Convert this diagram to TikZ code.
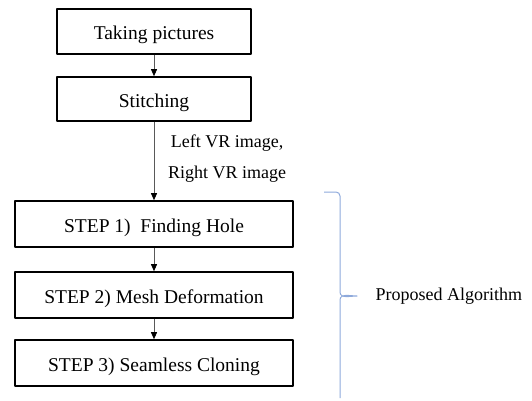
\documentclass[tikz,border=0pt]{standalone}
\usepackage{fontspec}
\setmainfont{Liberation Serif}
\usetikzlibrary{arrows.meta}
\definecolor{bracecol}{RGB}{142,169,219}
\begin{document}
\begin{tikzpicture}[x=1pt,y=-1pt,line join=round,>={Triangle[length=7pt,width=6pt,color=black]}]
	\tikzset{box/.style={draw,line width=1.6pt,inner sep=0pt,text height=17pt,text depth=0pt,font=\fontsize{19.5}{22}\selectfont},
		lbl/.style={font=\fontsize{18}{20}\selectfont},
		link/.style={->,draw=black!65,line width=0.8pt}}
	\useasboundingbox (0,0) rectangle (532,401);
	\node[box,minimum width=194pt,minimum height=45pt] (take) at (154,31.5) {Taking pictures};
	\node[box,minimum width=194pt,minimum height=44pt] (stitch) at (154,99) {Stitching};
	\node[box,minimum width=278pt,minimum height=46pt] (step1) at (154,224) {STEP 1)\ \ Finding Hole};
	\node[box,minimum width=278pt,minimum height=46pt] (step2) at (154,295) {STEP 2) Mesh Deformation};
	\node[box,minimum width=278pt,minimum height=46pt] (step3) at (154,363) {STEP 3) Seamless Cloning};
	\node[lbl] (left) at (227,143) {Left VR image,};
	\node[lbl] (right) at (227,174) {Right VR image};
	\node[lbl,anchor=west] (alg) at (372,296) {Proposed Algorithm};
	\draw[link] (take) -- (stitch);
	\draw[link] (stitch) -- (step1);
	\draw[link] (step1) -- (step2);
	\draw[link] (step2) -- (step3);
	% brace
	\draw[bracecol,line width=1pt] (324,192) -- (336,192) to[out=0,in=90] (340,196) -- (340,292)
		to[out=-90,in=180] (357,296) to[out=180,in=90] (340,300) -- (340,398);
\end{tikzpicture}
\end{document}
